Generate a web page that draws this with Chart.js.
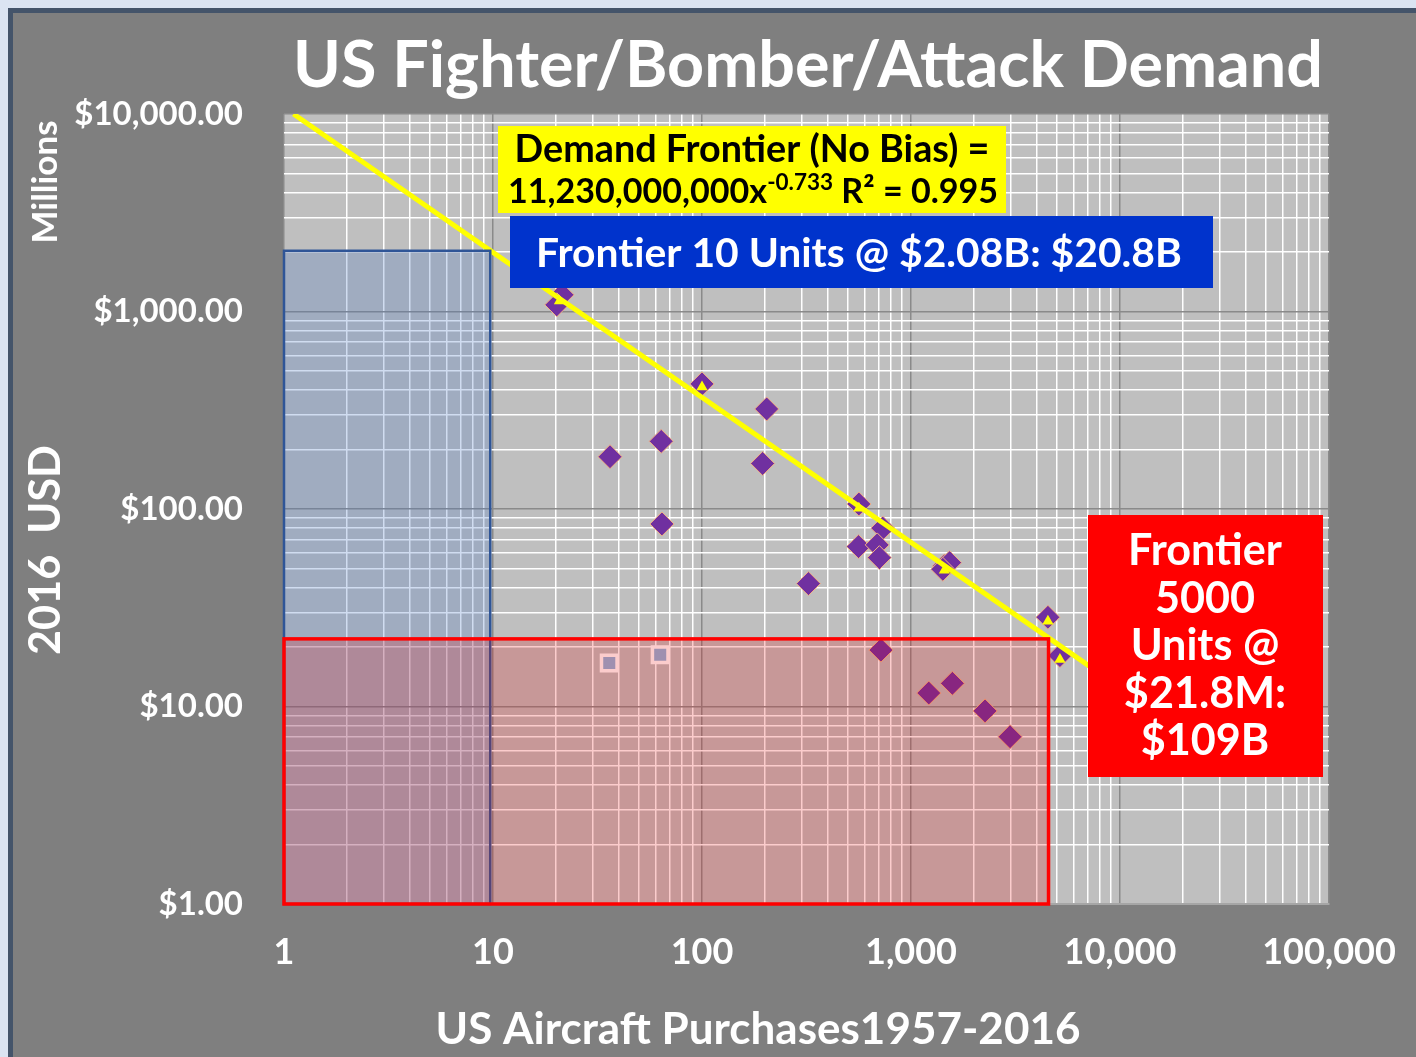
<!DOCTYPE html>
<html>
<head>
<meta charset="utf-8">
<script src="https://cdn.jsdelivr.net/npm/chart.js@4.4.0/dist/chart.umd.min.js"></script>
<style>
  html, body { margin: 0; padding: 0; background: #dbe4f2; overflow: hidden; }
  #frame {
    position: absolute; left: 8px; top: 8px; width: 1420px; height: 1060px;
    background: #7f7f7f; border-top: 5px solid #44546a; border-left: 5px solid #44546a;
  }
  #wrap { position: absolute; left: 0; top: 0; width: 1416px; height: 1057px; }
</style>
</head>
<body>
<div id="frame"></div>
<div id="wrap"><canvas id="chart" width="1416" height="1057"></canvas></div>
<script>
// axis ticks
const xMajor = [1, 10, 100, 1000, 10000, 100000];
const xTickLabels = ['1', '10', '100', '1,000', '10,000', '100,000'];
const yMajor = [1, 10, 100, 1000, 10000];
const yTickLabels = ['$1.00', '$10.00', '$100.00', '$1,000.00', '$10,000.00'];

// aircraft purchases (units) vs unit cost (2016 USD, millions)
const aircraftPoints = [
  { x: 21.4, y: 1215 }, { x: 20.2, y: 1081 },
  { x: 100, y: 430 }, { x: 204, y: 321 },
  { x: 63.8, y: 220 }, { x: 36.3, y: 184 },
  { x: 195, y: 170 }, { x: 64.3, y: 84 },
  { x: 563, y: 106 }, { x: 733, y: 80 },
  { x: 561, y: 64.5 }, { x: 689, y: 65.8 },
  { x: 706, y: 56.7 }, { x: 323, y: 41.9 },
  { x: 1445, y: 51.5 }, { x: 1530, y: 53.5 }, { x: 1420, y: 49.5 },
  { x: 4520, y: 28.3 }, { x: 5160, y: 18.1 },
  { x: 718, y: 19.3 }, { x: 1216, y: 11.7 },
  { x: 1578, y: 13.1 }, { x: 2261, y: 9.5 },
  { x: 2978, y: 7.03 }
];
const otherPoints = [{ x: 36.0, y: 16.6 }, { x: 63.1, y: 18.3 }];
const frontierPoints = [
  { x: 20.8, y: 1130 }, { x: 100, y: 415 }, { x: 563, y: 101 },
  { x: 1445, y: 49 }, { x: 4520, y: 27 }, { x: 5160, y: 17.3 }
];
// demand frontier trend line endpoints
const trendLine = [{ x: 1.11, y: 10000 }, { x: 10000, y: 12.5 }];

// shaded frontier regions [xMin, xMax, yMin, yMax]
const region10 = [1, 9.7, 1, 2030];
const region5000 = [1, 4550, 1, 22.0];

const FONT = 'Lato, "Open Sans", sans-serif';

function fitSize(ctx, text, target, weight) {
  ctx.font = weight + ' 100px ' + FONT;
  return 100 * target / ctx.measureText(text).width;
}

function minorTicks(majors) {
  const out = [];
  majors.forEach((m, i) => {
    out.push(m);
    if (i < majors.length - 1) for (let k = 2; k <= 9; k++) out.push(m * k);
  });
  return out;
}

const decor = {
  id: 'decor',
  beforeDraw(chart) {
    const { ctx, chartArea: a } = chart;
    ctx.save();
    ctx.fillStyle = '#bfbfbf';
    ctx.fillRect(a.left, a.top, a.right - a.left, a.bottom - a.top);
    ctx.restore();
  },
  afterDatasetsDraw(chart) {
    const { ctx, scales: { x, y } } = chart;
    const rect = (r, fill, stroke, lw) => {
      const x0 = x.getPixelForValue(r[0]), x1 = x.getPixelForValue(r[1]);
      const y0 = y.getPixelForValue(r[3]), y1 = y.getPixelForValue(r[2]);
      ctx.fillStyle = fill;
      ctx.fillRect(x0, y0, x1 - x0, y1 - y0);
      ctx.strokeStyle = stroke;
      ctx.lineWidth = lw;
      ctx.strokeRect(x0, y0, x1 - x0, y1 - y0);
    };
    ctx.save();
    rect(region10, 'rgba(68,114,196,0.25)', '#2f5597', 2.5);
    rect(region5000, 'rgba(237,0,0,0.2)', '#ff0000', 3.5);

    // yellow equation box
    ctx.fillStyle = '#ffff00';
    ctx.fillRect(498, 126, 508, 87);
    ctx.fillStyle = '#000';
    ctx.textBaseline = 'alphabetic';
    ctx.textAlign = 'center';
    let s = fitSize(ctx, 'Demand Frontier (No Bias) =', 475, 'bold');
    ctx.font = 'bold ' + s + 'px ' + FONT;
    ctx.fillText('Demand Frontier (No Bias) =', 752, 162);
    ctx.textAlign = 'left';
    const big = 'bold ' + s + 'px ' + FONT, small = 'bold ' + (s * 0.66) + 'px ' + FONT;
    const parts = [['11,230,000,000x', big, 0], ['-0.733', small, -13], [' R\u00b2 = 0.995', big, 0]];
    let tw = 0;
    parts.forEach(p => { ctx.font = p[1]; tw += ctx.measureText(p[0]).width; });
    const scale2 = 490 / tw;
    let cx = 508;
    parts.forEach(p => {
      const f = p[1].replace(/[\d.]+px/, m => (parseFloat(m) * scale2) + 'px');
      ctx.font = f;
      ctx.fillText(p[0], cx, 203 + p[2]);
      cx += ctx.measureText(p[0]).width;
    });

    // blue label
    ctx.fillStyle = '#0033cc';
    ctx.fillRect(510, 216, 703, 72);
    ctx.fillStyle = '#fff';
    ctx.textAlign = 'left';
    s = fitSize(ctx, 'Frontier 10 Units @ $2.08B: $20.8B', 646, 'bold');
    ctx.font = 'bold ' + s + 'px ' + FONT;
    ctx.fillText('Frontier 10 Units @ $2.08B: $20.8B', 536, 267);

    // red label
    ctx.fillStyle = '#ff0000';
    ctx.fillRect(1088, 515, 235, 262);
    ctx.fillStyle = '#fff';
    ctx.textAlign = 'center';
    s = fitSize(ctx, 'Frontier', 154, 'bold');
    ctx.font = 'bold ' + s + 'px ' + FONT;
    ['Frontier', '5000', 'Units @', '$21.8M:', '$109B'].forEach((t, i) => {
      ctx.fillText(t, 1205, 565 + i * 47.5);
    });
    ctx.restore();
  },
  afterDraw(chart) {
    const { ctx } = chart;
    ctx.save();
    ctx.fillStyle = '#fff';
    ctx.textAlign = 'center';
    ctx.textBaseline = 'alphabetic';
    let s = fitSize(ctx, 'US Fighter/Bomber/Attack Demand', 1030, 'bold');
    ctx.font = 'bold ' + s + 'px ' + FONT;
    ctx.fillText('US Fighter/Bomber/Attack Demand', 808, 87);

    s = fitSize(ctx, 'US Aircraft Purchases1957-2016', 645, 'bold');
    ctx.font = 'bold ' + s + 'px ' + FONT;
    ctx.fillText('US Aircraft Purchases1957-2016', 758, 1044);

    ctx.save();
    s = fitSize(ctx, 'Millions', 123, 'bold');
    ctx.translate(57, 182);
    ctx.rotate(-Math.PI / 2);
    ctx.font = 'bold ' + s + 'px ' + FONT;
    ctx.fillText('Millions', 0, 0);
    ctx.restore();

    s = fitSize(ctx, '2016  USD', 210, 'bold');
    ctx.translate(60, 550);
    ctx.rotate(-Math.PI / 2);
    ctx.font = 'bold ' + s + 'px ' + FONT;
    ctx.fillText('2016  USD', 0, 0);
    ctx.restore();
  }
};

const gridColor = majors => c => (c.tick && majors.includes(c.tick.value)) ? '#8a8a8a' : '#ffffff';

new Chart(document.getElementById('chart'), {
  type: 'scatter',
  data: {
    datasets: [
      {
        label: 'Frontier points',
        data: frontierPoints,
        pointStyle: 'triangle',
        pointRadius: 6.5,
        backgroundColor: '#ffff00',
        borderWidth: 0,
        order: 0
      },
      {
        type: 'line',
        label: 'Demand Frontier',
        data: trendLine,
        borderColor: '#ffff00',
        borderWidth: 5,
        pointRadius: 0,
        fill: false,
        order: 1
      },
      {
        label: 'Aircraft',
        data: aircraftPoints,
        pointStyle: 'rectRot',
        pointRadius: 12,
        backgroundColor: '#7030a0',
        borderColor: '#f4b183',
        borderWidth: 1,
        order: 2
      },
      {
        label: 'Other',
        data: otherPoints,
        pointStyle: 'rect',
        pointRadius: 11,
        backgroundColor: '#8cb4dc',
        borderColor: '#ffffff',
        borderWidth: 3.5,
        order: 3
      }
    ]
  },
  options: {
    responsive: false,
    animation: false,
    layout: { padding: { top: 114, right: 87, bottom: 0, left: 0 } },
    plugins: { legend: { display: false }, tooltip: { enabled: false }, title: { display: false } },
    scales: {
      x: {
        type: 'logarithmic',
        min: 1,
        max: 100000,
        afterFit: sc => { sc.height = 153; sc.paddingLeft = 0; sc.paddingRight = 0; },
        afterBuildTicks: sc => { sc.ticks = minorTicks(xMajor).map(v => ({ value: v })); },
        grid: { color: gridColor(xMajor), lineWidth: 1.5, drawTicks: false },
        border: { display: true, color: '#a6a6a6', width: 2 },
        ticks: {
          autoSkip: false,
          maxRotation: 0,
          padding: 27,
          color: '#ffffff',
          font: { family: FONT, size: 36, weight: 'bold' },
          callback: v => { const i = xMajor.indexOf(v); return i >= 0 ? xTickLabels[i] : ''; }
        }
      },
      y: {
        type: 'logarithmic',
        min: 1,
        max: 10000,
        afterFit: sc => { sc.width = 284; sc.paddingTop = 0; sc.paddingBottom = 0; },
        afterBuildTicks: sc => { sc.ticks = minorTicks(yMajor).map(v => ({ value: v })); },
        grid: { color: gridColor(yMajor), lineWidth: 1.5, drawTicks: false },
        border: { display: false },
        ticks: {
          autoSkip: false,
          padding: 41,
          color: '#ffffff',
          font: { family: FONT, size: 33, weight: 'bold' },
          callback: v => { const i = yMajor.indexOf(v); return i >= 0 ? yTickLabels[i] : ''; }
        }
      }
    }
  },
  plugins: [decor]
});
</script>
</body>
</html>
